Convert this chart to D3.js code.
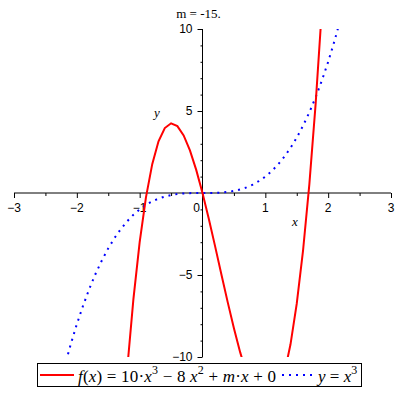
<!DOCTYPE html>
<html><head><meta charset="utf-8">
<script src="https://cdn.jsdelivr.net/npm/d3@7"></script>
<style>body{margin:0;background:#fff}svg{display:block}
.serif{font-family:"Liberation Serif","Times New Roman",Times,serif}
.sans{font-family:"Liberation Sans",Arial,Helvetica,sans-serif}
</style>
</head><body>
<svg id="c" width="400" height="400"></svg>
<script>
const title = "m = -15.";
const xTicks = [-3,-2,-1,0,1,2,3];
const xMinor = [-2.5,-1.5,-0.5,0.5,1.5,2.5];
const yTicks = [-10,-5,5,10];
const yMinor = [-9,-8,-7,-6,-4,-3,-2,-1,1,2,3,4,6,7,8,9];
// f(x) = 10x^3 - 8x^2 - 15x
const fX = [-1.3,-1.2,-1.1,-1.0,-0.9,-0.8,-0.7,-0.6,-0.5,-0.4,-0.3,-0.2,-0.1,0,0.1,0.2,0.3,0.4,0.5,0.6,0.7,0.8,0.9,1.0,1.1,1.2,1.3,1.4,1.5,1.6,1.7,1.8,1.9,2.0];
const fY = [-15.99,-10.8,-6.49,-3,-0.27,1.76,3.15,3.96,4.25,4.08,3.51,2.6,1.41,0,-1.57,-3.24,-4.95,-6.64,-8.25,-9.72,-10.99,-12,-12.69,-13,-12.87,-12.24,-11.05,-9.24,-6.75,-3.52,0.51,5.4,11.21,18];
// y = x^3
const gX = [-2.2,-2.1,-2.0,-1.9,-1.8,-1.7,-1.6,-1.5,-1.4,-1.3,-1.2,-1.1,-1.0,-0.9,-0.8,-0.7,-0.6,-0.5,-0.4,-0.3,-0.2,-0.1,0,0.1,0.2,0.3,0.4,0.5,0.6,0.7,0.8,0.9,1.0,1.1,1.2,1.3,1.4,1.5,1.6,1.7,1.8,1.9,2.0,2.1,2.2];
const gY = [-10.65,-9.26,-8,-6.86,-5.83,-4.91,-4.1,-3.375,-2.74,-2.2,-1.73,-1.33,-1,-0.73,-0.51,-0.34,-0.22,-0.125,-0.064,-0.027,-0.008,-0.001,0,0.001,0.008,0.027,0.064,0.125,0.22,0.34,0.51,0.73,1,1.33,1.73,2.2,2.74,3.375,4.1,4.91,5.83,6.86,8,9.26,10.65];

const svg = d3.select("#c");
const x = d3.scaleLinear().domain([-3,3]).range([14,391]);
const y = d3.scaleLinear().domain([-10,10]).range([357,29]);
const x0 = x(0), y0 = y(0);

svg.append("defs").append("clipPath").attr("id","clip")
  .append("rect").attr("x",14).attr("y",29).attr("width",377).attr("height",328);

// x axis
svg.append("g").attr("transform",`translate(0,${y0})`)
  .call(d3.axisBottom(x).tickValues(xTicks).tickSize(5).tickFormat(""))
  .call(g=>g.select(".domain").remove());
svg.append("g").attr("transform",`translate(0,${y0})`)
  .call(d3.axisBottom(x).tickValues(xMinor).tickSize(3).tickFormat(""))
  .call(g=>g.select(".domain").remove());
svg.append("line").attr("x1",x(-3)).attr("x2",x(3)).attr("y1",y0).attr("y2",y0).attr("stroke","#000");
svg.append("g").selectAll("text").data(xTicks).join("text")
  .attr("class","sans")
  .attr("x",d=>d===0? x(d)-6 : x(d)).attr("y",y0+19)
  .attr("text-anchor","middle").attr("font-size",12)
  .text(d=>d<0? "\u2212"+Math.abs(d) : d);

// y axis
svg.append("g").attr("transform",`translate(${x0},0)`)
  .call(d3.axisLeft(y).tickValues(yTicks).tickSize(5).tickFormat(""))
  .call(g=>g.select(".domain").remove());
svg.append("g").attr("transform",`translate(${x0},0)`)
  .call(d3.axisLeft(y).tickValues(yMinor).tickSize(2).tickFormat(""))
  .call(g=>g.select(".domain").remove());
svg.append("line").attr("x1",x0).attr("x2",x0).attr("y1",y(10)).attr("y2",y(-10)).attr("stroke","#000");
svg.append("g").selectAll("text").data(yTicks).join("text")
  .attr("class","sans")
  .attr("x",x0-10).attr("y",d=>y(d)+4)
  .attr("text-anchor","end").attr("font-size",12)
  .text(d=>d<0? "\u2212"+Math.abs(d) : d);

svg.selectAll(".tick line").attr("stroke","#000");

// axis labels
svg.append("text").attr("class","serif").attr("x",154).attr("y",117).attr("font-style","italic").attr("font-size",13).text("y");
svg.append("text").attr("class","serif").attr("x",292).attr("y",226).attr("font-style","italic").attr("font-size",13).text("x");

// title
svg.append("text").attr("class","serif").attr("x",x0-4).attr("y",18).attr("text-anchor","middle")
  .attr("font-size",13).text(title);

// curves
const line = d3.line().x(d=>x(d[0])).y(d=>y(d[1]));
const plot = svg.append("g").attr("clip-path","url(#clip)");
plot.append("path").datum(gX.map((v,i)=>[v,gY[i]])).attr("d",line)
  .attr("fill","none").attr("stroke","#0000ff").attr("stroke-width",2).attr("stroke-dasharray","2,5");
plot.append("path").datum(fX.map((v,i)=>[v,fY[i]])).attr("d",line)
  .attr("fill","none").attr("stroke","#ff0000").attr("stroke-width",2);

// legend
const lg = svg.append("g");
lg.append("rect").attr("x",37.5).attr("y",363.5).attr("width",324).attr("height",23).attr("fill","#fff").attr("stroke","#000");
lg.append("line").attr("x1",40).attr("x2",74).attr("y1",375).attr("y2",375).attr("stroke","#ff0000").attr("stroke-width",2);
lg.append("line").attr("x1",282).attr("x2",313).attr("y1",375).attr("y2",375).attr("stroke","#0000ff").attr("stroke-width",2).attr("stroke-dasharray","2,5");
const t1 = lg.append("text").attr("class","serif").attr("x",78).attr("y",382).attr("font-size",17)
  .attr("textLength",198).attr("lengthAdjust","spacing");
const parts1 = [["f","i"],["(","n"],["x","i"],[") = 10\u00B7","n"],["x","i"],["3","s"],[" \u2212 8 ","n"],["x","i"],["2","s"],[" + ","n"],["m","i"],["\u00B7","n"],["x","i"],[" + 0","n"]];
let sup=false;
parts1.forEach(([s,k])=>{
  const ts=t1.append("tspan").text(s);
  if(k==="i") ts.attr("font-style","italic");
  if(k==="s"){ ts.attr("font-size",12).attr("dy",-8); sup=true; }
  else if(sup){ ts.attr("dy",8); sup=false; }
});
const t2 = lg.append("text").attr("class","serif").attr("x",318).attr("y",382).attr("font-size",17);
[["y","i"],[" = ","n"],["x","i"],["3","s"]].forEach(([s,k])=>{
  const ts=t2.append("tspan").text(s);
  if(k==="i") ts.attr("font-style","italic");
  if(k==="s") ts.attr("font-size",12).attr("dy",-8);
});
</script>
</body></html>
